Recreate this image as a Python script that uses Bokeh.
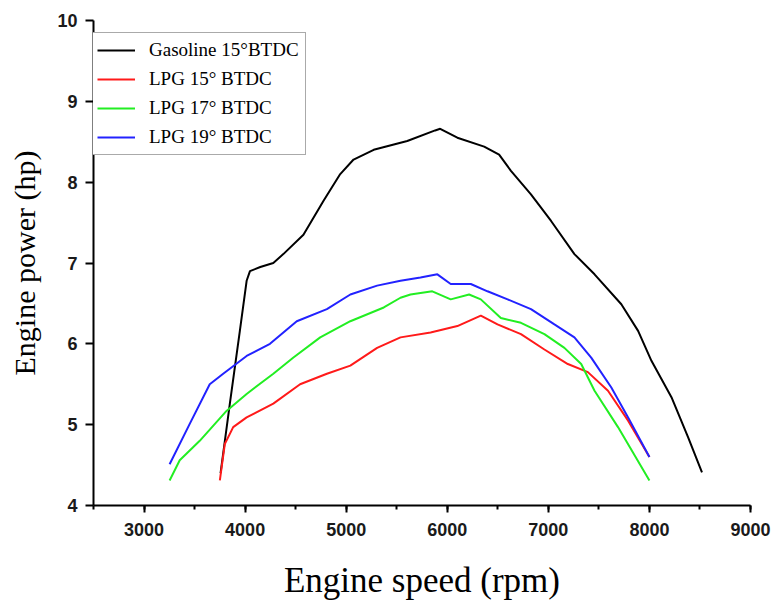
from bokeh.plotting import figure
from bokeh.models import Range1d, SingleIntervalTicker, Legend, LegendItem
from bokeh.embed import file_html
from bokeh.resources import INLINE

# Data
gas_rpm = [3757, 3849, 3948, 4015, 4048, 4150, 4279, 4378, 4577, 4776, 4941, 5073, 5272, 5604,
           5880, 5930, 6100, 6365, 6513, 6630, 6828, 7027, 7258, 7457, 7722, 7888, 8020, 8218, 8384, 8520]
gas_hp = [4.40, 5.26, 6.16, 6.78, 6.90, 6.95, 7.00, 7.11, 7.35, 7.77, 8.10, 8.28, 8.40, 8.51,
          8.64, 8.66, 8.55, 8.44, 8.34, 8.14, 7.85, 7.52, 7.11, 6.86, 6.49, 6.16, 5.79, 5.34, 4.84, 4.41]

lpg15_rpm = [3750, 3799, 3882, 4015, 4279, 4544, 4809, 5041, 5306, 5537, 5835, 6100, 6332, 6497,
             6729, 6961, 7193, 7391, 7590, 7789, 8000]
lpg15_hp = [4.31, 4.76, 4.97, 5.09, 5.26, 5.50, 5.63, 5.73, 5.95, 6.08, 6.14, 6.22, 6.35, 6.24,
            6.12, 5.93, 5.75, 5.65, 5.42, 5.05, 4.60]

lpg17_rpm = [3253, 3353, 3551, 3816, 4015, 4279, 4478, 4743, 5041, 5372, 5537, 5636, 5852, 6034,
             6216, 6332, 6530, 6729, 6961, 7159, 7325, 7457, 7689, 8000]
lpg17_hp = [4.31, 4.56, 4.80, 5.17, 5.38, 5.63, 5.83, 6.08, 6.28, 6.45, 6.57, 6.61, 6.65, 6.55,
            6.61, 6.55, 6.32, 6.26, 6.12, 5.95, 5.75, 5.42, 4.97, 4.31]

lpg19_rpm = [3253, 3452, 3650, 3783, 4015, 4246, 4511, 4809, 5041, 5306, 5537, 5735, 5902, 6034,
             6233, 6398, 6597, 6828, 7060, 7258, 7424, 7623, 7789, 8000]
lpg19_hp = [4.51, 5.01, 5.50, 5.63, 5.85, 6.00, 6.28, 6.43, 6.61, 6.72, 6.78, 6.82, 6.86, 6.74,
            6.74, 6.65, 6.55, 6.43, 6.24, 6.08, 5.83, 5.46, 5.09, 4.60]

labels = ["Gasoline 15\u00b0BTDC", "LPG 15\u00b0 BTDC", "LPG 17\u00b0 BTDC", "LPG 19\u00b0 BTDC"]
colors = ["#000000", "#ff1a1a", "#22ee22", "#2222ff"]

p = figure(width=772, height=602, output_backend="svg", toolbar_location=None,
           x_range=Range1d(2500, 9000), y_range=Range1d(4, 10))
p.min_border_left = 93
p.min_border_right = 22
p.min_border_top = 20
p.min_border_bottom = 97
p.outline_line_color = None
p.xgrid.grid_line_color = None
p.ygrid.grid_line_color = None

series = [(gas_rpm, gas_hp), (lpg15_rpm, lpg15_hp), (lpg17_rpm, lpg17_hp), (lpg19_rpm, lpg19_hp)]
renderers = []
for (xs, ys), c in zip(series, colors):
    renderers.append(p.line(xs, ys, line_color=c, line_width=2))

p.xaxis.ticker = SingleIntervalTicker(interval=1000, num_minor_ticks=2)
p.yaxis.ticker = SingleIntervalTicker(interval=1, num_minor_ticks=0)

for ax in (p.xaxis[0], p.yaxis[0]):
    ax.axis_line_width = 2
    ax.axis_line_color = "black"
    ax.major_tick_line_width = 2
    ax.major_tick_line_color = "black"
    ax.major_tick_in = 0
    ax.major_tick_out = 7
    ax.minor_tick_line_width = 2
    ax.minor_tick_line_color = "black"
    ax.minor_tick_in = 0
    ax.minor_tick_out = 4
    ax.major_label_text_font = "Liberation Sans"
    ax.major_label_text_font_style = "bold"
    ax.major_label_text_font_size = "18px"
    ax.major_label_text_color = "#1a1a1a"
    ax.axis_label_text_font = "Liberation Serif"
    ax.axis_label_text_font_style = "normal"
    ax.axis_label_text_color = "black"

p.yaxis.minor_tick_line_color = None
p.yaxis.major_tick_out = 8
p.xaxis.major_label_standoff = 10
p.yaxis.major_label_standoff = 8

p.xaxis.axis_label = "Engine speed (rpm)"
p.xaxis.axis_label_text_font_size = "35px"
p.xaxis.axis_label_standoff = 22
p.yaxis.axis_label = "Engine power (hp)"
p.yaxis.axis_label_text_font_size = "30px"
p.yaxis.axis_label_standoff = 13

legend = Legend(items=[LegendItem(label=l, renderers=[r]) for l, r in zip(labels, renderers)],
                location=(-3, 350))
legend.label_text_font = "Liberation Serif"
legend.label_text_font_size = "19px"
legend.label_text_color = "black"
legend.glyph_width = 38
legend.glyph_height = 22
legend.label_height = 22
legend.label_standoff = 14
legend.spacing = 7
legend.padding = 6
legend.margin = 0
legend.border_line_color = "#555555"
legend.border_line_width = 1
legend.background_fill_alpha = 1
p.add_layout(legend, "center")

open("out.html", "w").write(file_html(p, INLINE))
